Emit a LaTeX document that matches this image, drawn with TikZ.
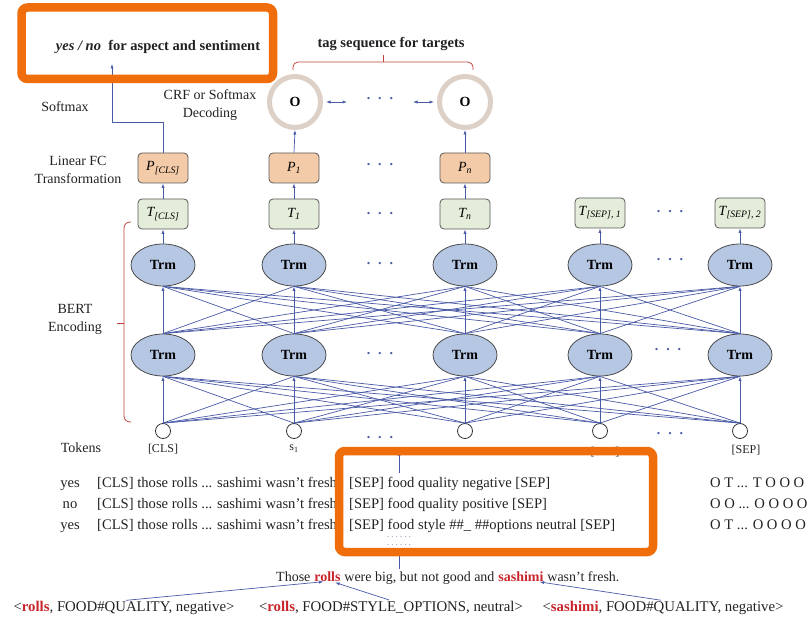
\documentclass[tikz,border=0pt]{standalone}
\usepackage{fontspec}
\setmainfont{Liberation Serif}
\usetikzlibrary{arrows.meta,shapes.geometric,calc}

\definecolor{linkblue}{HTML}{4A5BA6}
\definecolor{boxorange}{HTML}{EF6D0A}
\definecolor{bracered}{HTML}{C0443C}
\definecolor{trmfill}{HTML}{B6C7E4}
\definecolor{pfill}{HTML}{F4CBA8}
\definecolor{tfill}{HTML}{E4EDD9}
\definecolor{ringbeige}{HTML}{DDD1C7}
\definecolor{wordred}{HTML}{C8262C}
\definecolor{inkgray}{HTML}{222222}

\newcommand{\lsub}[1]{\textsubscript{#1}}
\newcommand{\redword}[1]{\textcolor{wordred}{\bfseries #1}}
\newcommand{\threedots}{.\hspace{8pt}.\hspace{8pt}.}
\newcommand{\sixdots}{.\hspace{2.4pt}.\hspace{2.4pt}.\hspace{2.4pt}.\hspace{2.4pt}.\hspace{2.4pt}.}

\tikzset{
  lbl/.style={inner sep=0pt, text=inkgray, font=\fontsize{14}{18}\selectfont},
  boldlbl/.style={lbl, font=\bfseries\fontsize{14.5}{18}\selectfont},
  toklbl/.style={lbl, font=\fontsize{12}{14}\selectfont},
  rowtxt/.style={lbl, anchor=base west, font=\fontsize{14.6}{18}\selectfont},
  trm/.style={ellipse, draw=black!70, fill=trmfill, line width=0.8pt,
    minimum width=64pt, minimum height=42pt, inner sep=0pt,
    font=\bfseries\fontsize{14}{16}\selectfont},
  pbox/.style={rectangle, rounded corners=4pt, draw=black!65, fill=pfill,
    line width=0.8pt, minimum width=50pt, minimum height=30pt, inner sep=0pt,
    font=\itshape\fontsize{14}{16}\selectfont},
  tbox/.style={pbox, fill=tfill},
  tok/.style={circle, draw=black!80, fill=white, line width=0.8pt,
    minimum size=15pt, inner sep=0pt},
  onode/.style={circle, draw=ringbeige, line width=5pt, fill=white,
    minimum size=51pt, inner sep=0pt, font=\bfseries\fontsize{14}{16}\selectfont},
  link/.style={draw=linkblue, line width=0.7pt},
  uparrow/.style={link, -{Latex[length=4.5pt,width=3.2pt]}},
  biarrow/.style={link, {Latex[length=4.5pt,width=3.2pt]}-{Latex[length=4.5pt,width=3.2pt]}},
  dots/.style={inner sep=0pt, text=linkblue, font=\bfseries\fontsize{14}{16}\selectfont},
  smalldots/.style={inner sep=0pt, text=linkblue!70!gray, font=\fontsize{8}{9}\selectfont},
  brace/.style={draw=bracered, line width=0.8pt, rounded corners=5pt},
  hilite/.style={draw=boxorange, line width=8.5pt, rounded corners=6pt},
}

\begin{document}
\begin{tikzpicture}[x=1pt,y=-1pt]
\useasboundingbox (0,0) rectangle (808,617);

% ---- token inputs ----
\node[tok] (k1) at (163,431) {};
\node[tok] (k2) at (294,431) {};
\node[tok] (k3) at (465,431) {};
\node[tok] (k4) at (600,431) {};
\node[tok] (k5) at (740,431) {};
\node[toklbl] (kl1) at (163,449) {[CLS]};
\node[toklbl] (kl2) at (294,449) {s\lsub{1}};
\node[toklbl] (kl4) at (605,452) {[SEP]};
\node[toklbl] (kl5) at (746,450) {[SEP]};
\node[dots] (dk1) at (380,438) {\threedots};
\node[dots] (dk2) at (670,434) {\threedots};

% ---- transformer layers ----
\foreach \i/\x in {1/163,2/294,3/465,4/600,5/740}{
  \node[trm] (l\i) at (\x,355) {Trm};
  \node[trm] (u\i) at (\x,265) {Trm};
}
\node[dots] (dl1) at (380,354) {\threedots};
\node[dots] (dl2) at (668,350) {\threedots};
\node[dots] (du1) at (380,264) {\threedots};
\node[dots] (du2) at (670,260) {\threedots};

% ---- output vectors ----
\node[tbox] (t1) at (163,214) {T\lsub{[CLS]}};
\node[tbox] (t2) at (294,214) {T\lsub{1}};
\node[tbox] (t3) at (465,214) {T\lsub{n}};
\node[tbox] (t4) at (600,213) {T\lsub{[SEP], 1}};
\node[tbox] (t5) at (740,213) {T\lsub{[SEP], 2}};
\node[dots] (dt1) at (380,214) {\threedots};
\node[dots] (dt2) at (670,212) {\threedots};

\node[pbox] (p1) at (163,168) {P\lsub{[CLS]}};
\node[pbox] (p2) at (294,168) {P\lsub{1}};
\node[pbox] (p3) at (465,168) {P\lsub{n}};
\node[dots] (dp1) at (380,165) {\threedots};

\node[onode] (o2) at (295,102) {O};
\node[onode] (o3) at (465,102) {O};
\node[dots] (do1) at (380,99) {\threedots};

% ---- full connections between layers ----
\foreach \a in {1,...,5}{
  \foreach \b in {1,...,5}{
    \ifnum\a=\b\relax
      \draw[uparrow] (k\a.north) -- (l\b.south);
      \draw[uparrow] (l\a.north) -- (u\b.south);
    \else
      \draw[link] (k\a.north) -- (l\b.south);
      \draw[link] (l\a.north) -- (u\b.south);
    \fi
  }
}
\foreach \i in {1,...,5}{
  \draw[uparrow] (u\i.north) -- (t\i.south);
}
\foreach \i in {1,2,3}{
  \draw[uparrow] (t\i.north) -- (p\i.south);
}
\draw[uparrow] (p2.north) -- (o2.south);
\draw[uparrow] (p3.north) -- (o3.south);
\draw[biarrow, shorten <=3pt] (o2.east) -- ++(24,0);
\draw[biarrow, shorten <=3pt] (o3.west) -- ++(-24,0);

% ---- classification branch ----
\coordinate (ynbend) at (112,122);
\coordinate (yntip) at (112,64);
\draw[uparrow] (p1.north) |- (ynbend) -- (yntip);
\node[boldlbl] (yesno) at (158,47) {\textit{yes / no}\ \ for aspect and sentiment};

% ---- tag sequence brace ----
\draw[brace] (293,70) -- (293,62) -- (473,62) -- (473,70);
\draw[brace] (383,62) -- (383,55);
\node[boldlbl] (tagseq) at (391,44) {tag sequence for targets};

% ---- left-hand labels ----
\node[lbl] (softmax) at (65,107) {Softmax};
\node[lbl, align=center] (crf) at (210,105) {CRF or Softmax\\Decoding};
\node[lbl, align=center] (linfc) at (78,170) {Linear FC\\Transformation};
\node[lbl, align=center] (bert) at (75,319) {BERT\\Encoding};
\node[lbl] (tokens) at (81,448) {Tokens};
\draw[brace, rounded corners=6pt] (131,222) -- (124,222) -- (124,422) -- (131,422);
\draw[brace] (124,323) -- (117,323);

% ---- auxiliary sentence pairs ----
\node[rowtxt, anchor=base] (ans1) at (70,487) {yes};
\node[rowtxt, anchor=base] (ans2) at (70,508) {no};
\node[rowtxt, anchor=base] (ans3) at (70,529) {yes};
\node[rowtxt] (row1) at (97,487) {[CLS] those rolls ... sashimi wasn't fresh . [SEP] food quality negative [SEP]};
\node[rowtxt] (row2) at (97,508) {[CLS] those rolls ... sashimi wasn't fresh . [SEP] food quality positive [SEP]};
\node[rowtxt] (row3) at (97,529) {[CLS] those rolls ... sashimi wasn't fresh . [SEP] food style \#\#\_ \#\#options neutral [SEP]};
\node[rowtxt] (tag1) at (710,487) {O T ... T O O O};
\node[rowtxt] (tag2) at (710,508) {O O ... O O O O};
\node[rowtxt] (tag3) at (710,529) {O T ... O O O O};
\node[smalldots] (moreA) at (399,537) {\sixdots};
\node[smalldots] (moreB) at (399,545) {\sixdots};
\coordinate (rowsup) at (399,473);
\coordinate (tokdown) at (399,451);
\draw[uparrow] (rowsup) -- (tokdown);
\coordinate (sentup) at (399,569);
\coordinate (rowsdown) at (399,549);
\draw[uparrow] (sentup) -- (rowsdown);

% ---- review sentence and its tuples ----
\node[rowtxt, font=\fontsize{14}{18}\selectfont] (sA) at (276,581) {Those\ \null};
\node[rowtxt, font=\fontsize{14}{18}\selectfont] (sRolls) at (sA.base east) {\redword{rolls}};
\node[rowtxt, font=\fontsize{14}{18}\selectfont] (sB) at (sRolls.base east) {\ were big, but not good and\ \null};
\node[rowtxt, font=\fontsize{14}{18}\selectfont] (sSashimi) at (sB.base east) {\redword{sashimi}};
\node[rowtxt, font=\fontsize{14}{18}\selectfont] (sC) at (sSashimi.base east) {\ wasn't fresh.};

\node[rowtxt, anchor=base, font=\fontsize{14.8}{18}\selectfont] (tup1) at (124,611) {<\redword{rolls}, FOOD\#QUALITY, negative>};
\node[rowtxt, anchor=base, font=\fontsize{14.8}{18}\selectfont] (tup2) at (391,611) {<\redword{rolls}, FOOD\#STYLE\_OPTIONS, neutral>};
\node[rowtxt, anchor=base, font=\fontsize{14.8}{18}\selectfont] (tup3) at (663,611) {<\redword{sashimi}, FOOD\#QUALITY, negative>};
\draw[uparrow, shorten <=2pt, shorten >=4pt] (tup1.north) -- (sRolls.south);
\draw[uparrow, shorten <=2pt, shorten >=4pt] (tup2.north) -- ([xshift=4pt]sRolls.south);
\draw[uparrow, shorten <=2pt, shorten >=4pt] (tup3.north) -- ([xshift=-8pt]sSashimi.south east);

% ---- highlight frames ----
\draw[hilite] (21.5,7.5) rectangle (273,79);
\draw[hilite] (339,451) rectangle (653,552);
\end{tikzpicture}
\end{document}
